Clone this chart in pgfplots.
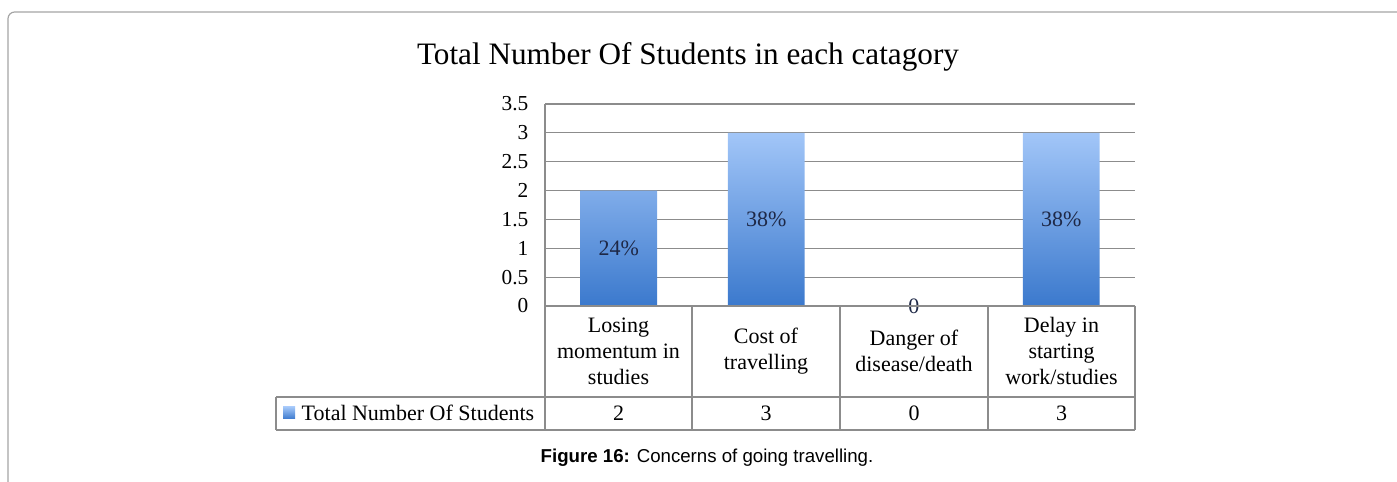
\documentclass[border=0pt]{standalone}
\usepackage{pgfplots}
\pgfplotsset{compat=1.18}
\usepackage{fontspec}
\setmainfont{Liberation Serif}
\newfontfamily\capfont{Liberation Sans}
\definecolor{bartop}{RGB}{162,198,248}
\definecolor{barbot}{RGB}{59,121,205}
\definecolor{gridc}{RGB}{140,140,140}
\definecolor{framec}{RGB}{165,165,165}
\definecolor{lbl}{RGB}{30,40,70}
\newcommand{\tf}{\fontsize{16.5}{19.5}\selectfont}
\begin{document}
\begin{tikzpicture}
\begin{scope}[x=0.75pt,y=0.75pt]
\path[use as bounding box] (0,0) rectangle (1397,482);
\draw[framec, line width=0.9pt, rounded corners=5pt] (8,0) -- (8,470) -- (1397,470);
\node[font=\fontsize{23.4}{28}\selectfont] at (688,425) {Total Number Of Students in each catagory};
\end{scope}
\begin{axis}[at={(408.75pt,132pt)}, anchor=south west, scale only axis,
  width=442.5pt, height=151.5pt,
  xmin=-0.5, xmax=3.5, ymin=0, ymax=3.5,
  ytick={0,0.5,...,3.5}, xtick=\empty,
  ymajorgrids, grid style={gridc, line width=0.8pt},
  axis x line=none, axis y line*=left,
  y axis line style={gridc, line width=0.8pt, -},
  major tick length=0pt,
  /pgf/number format/assume math mode=true,
  yticklabel style={font=\fontsize{16}{18}\selectfont, xshift=-9pt},
  clip=false]
\addplot[ybar, bar width=0.52, draw=none, top color=bartop, bottom color=barbot]
  coordinates {(0,2) (1,3) (3,3)};
\addplot[draw=none, mark=none, nodes near coords, point meta=explicit symbolic,
  nodes near coords style={anchor=center, font=\fontsize{16.5}{19}\selectfont, text=lbl}]
  coordinates {(0,1) [24\%] (1,1.5) [38\%] (2,0) [0] (3,1.5) [38\%]};
\end{axis}
\begin{scope}[x=0.75pt,y=0.75pt]
\draw[gridc, line width=0.8pt] (545,176) -- (1135,176);
\draw[gridc, line width=0.8pt] (276,85) -- (1135,85);
\draw[gridc, line width=0.8pt] (276,52) -- (1135,52);
\draw[gridc, line width=0.8pt] (276,85) -- (276,52);
\draw[gridc, line width=0.8pt] (545,176) -- (545,52);
\foreach \xx in {692,840,988,1135} {\draw[gridc, line width=0.8pt] (\xx,176) -- (\xx,52);}
\node[align=center, font=\tf] at (618.5,131) {Losing\\momentum in\\studies};
\node[align=center, font=\tf] at (766,131) {Cost of\\travelling};
\node[align=center, font=\tf] at (914,131) {Danger of\\disease/death};
\node[align=center, font=\tf] at (1061.5,131) {Delay in\\starting\\work/studies};
\shade[top color=bartop, bottom color=barbot] (283,75) rectangle (295,63);
\node[anchor=west, font=\tf] at (297,69) {Total Number Of Students};
\node[font=\tf] at (618.5,69) {2};
\node[font=\tf] at (766,69) {3};
\node[font=\tf] at (914,69) {0};
\node[font=\tf] at (1061.5,69) {3};
\node[font=\capfont\fontsize{14}{17}\selectfont] at (707,24) {\textbf{Figure 16:} Concerns of going travelling.};
\end{scope}
\end{tikzpicture}
\end{document}
